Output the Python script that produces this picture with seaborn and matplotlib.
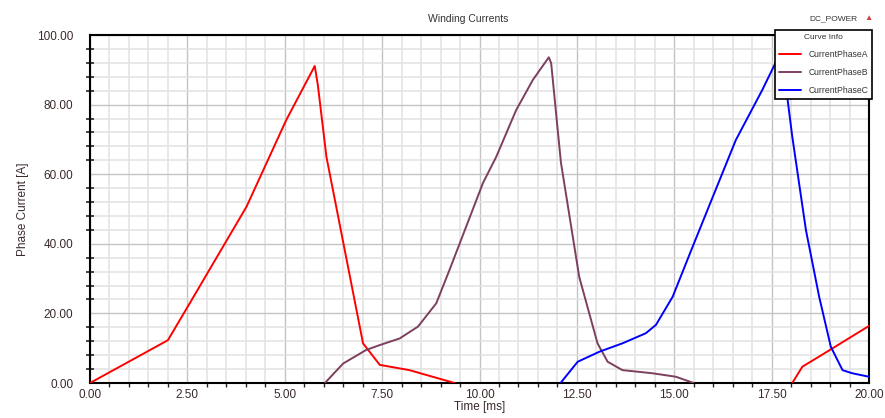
import numpy as np
import pandas as pd
import matplotlib
matplotlib.use("Agg")
import matplotlib.pyplot as plt
from matplotlib.ticker import MultipleLocator, FormatStrFormatter
from matplotlib.lines import Line2D
import seaborn as sns

# ---- data (time in ms, current in A) ----
a1_t = [0.0, 2.0, 2.56, 4.02, 5.04, 5.77, 5.85, 6.07, 7.01, 7.44, 8.2, 9.36]
a1_i = [0.0, 12.3, 22.9, 50.7, 75.6, 91.1, 85.6, 65.0, 11.4, 5.2, 3.7, 0.0]
a2_t = [18.03, 18.29, 18.72, 20.0]
a2_i = [0.0, 4.7, 7.6, 16.4]

b_t = [6.03, 6.5, 7.09, 7.44, 7.95, 8.42, 8.89, 9.23, 9.66, 10.09, 10.43, 10.94,
       11.37, 11.78, 11.84, 12.09, 12.56, 13.03, 13.29, 13.67, 14.44, 15.04, 15.5]
b_i = [0.0, 5.6, 9.5, 10.9, 12.8, 16.2, 22.9, 32.5, 45.0, 57.5, 65.0, 78.4,
       87.1, 93.6, 91.9, 63.4, 30.5, 11.4, 6.1, 3.7, 2.8, 1.8, 0.0]

c_t = [12.08, 12.52, 13.08, 13.67, 14.27, 14.53, 14.96, 15.47, 15.99, 16.58,
       17.26, 17.6, 17.9, 18.03, 18.38, 18.72, 19.02, 19.32, 19.57, 20.0]
c_i = [0.0, 6.1, 9.0, 11.4, 14.3, 16.7, 24.8, 39.1, 53.5, 69.8,
       84.2, 92.0, 82.3, 70.8, 44.0, 24.8, 10.4, 3.7, 2.8, 1.8]

phase_names = ["CurrentPhaseA", "CurrentPhaseB", "CurrentPhaseC"]
phase_colors = ["#ff0000", "#7d3f5e", "#0000ff"]
x_ticks = [0.0, 2.5, 5.0, 7.5, 10.0, 12.5, 15.0, 17.5, 20.0]
y_ticks = [0, 20, 40, 60, 80, 100]

frames = []
for t, i, ph, seg in [(a1_t, a1_i, phase_names[0], "a1"), (a2_t, a2_i, phase_names[0], "a2"),
                      (b_t, b_i, phase_names[1], "b"), (c_t, c_i, phase_names[2], "c")]:
    frames.append(pd.DataFrame({"time": t, "current": i, "phase": ph, "seg": seg}))
df = pd.concat(frames, ignore_index=True)

sns.set_style("white")
plt.rcParams["font.family"] = ["Liberation Sans", "DejaVu Sans"]

fig = plt.figure(figsize=(8.85, 4.18), dpi=100)
ax = fig.add_axes([90 / 885, 1 - 383 / 418, (869 - 90) / 885, (383 - 35) / 418])

sns.lineplot(data=df, x="time", y="current", hue="phase", units="seg", estimator=None,
             palette=dict(zip(phase_names, phase_colors)), linewidth=1.4, ax=ax,
             legend=False, sort=False, zorder=3)

ax.set_xlim(0, 20)
ax.set_ylim(0, 100)
ax.set_xticks(x_ticks)
ax.set_yticks(y_ticks)
ax.xaxis.set_major_formatter(FormatStrFormatter("%.2f"))
ax.yaxis.set_major_formatter(FormatStrFormatter("%.2f"))
ax.xaxis.set_minor_locator(MultipleLocator(0.5))
ax.yaxis.set_minor_locator(MultipleLocator(4))

ax.grid(which="major", color="#c4c4c4", linewidth=1.0, zorder=1)
ax.grid(which="minor", color="#e2e2e2", linewidth=1.1, zorder=0)
ax.set_axisbelow(True)

for s in ax.spines.values():
    s.set_color("black")
    s.set_linewidth(1.5)

ax.tick_params(axis="y", which="major", length=9, width=1.2, direction="out",
               labelsize=8.5, colors="black", labelcolor="#3a2a2a", pad=3)
ax.tick_params(axis="y", which="minor", length=6, width=1.2, direction="inout", left=True)
ax.tick_params(axis="x", which="major", length=4, width=1.2, direction="inout",
               labelsize=8.5, labelcolor="#3a2a2a", pad=2)
ax.tick_params(axis="x", which="minor", length=3, width=1.0, direction="out", bottom=True)

ax.set_xlabel("Time [ms]", fontsize=8.5, color="#3a2a2a", labelpad=0)
ax.set_ylabel("Phase Current [A]", fontsize=8.5, color="#3a2a2a", labelpad=6)

fig.text(468 / 885, 1 - 19 / 418, "Winding Currents", fontsize=7.5, color="#333333",
         ha="center", va="center")
fig.text(857 / 885, 1 - 19 / 418, "DC_POWER", fontsize=6, color="#333333",
         ha="right", va="center")
fig.text(868 / 885, 1 - 19 / 418, "\u25b2", fontsize=6, color="#d04040",
         ha="center", va="center")

handles = [Line2D([0], [0], color=c, linewidth=1.4) for c in phase_colors]
leg = ax.legend(handles, phase_names, title="Curve Info", loc="upper left",
                bbox_to_anchor=(775 / 885, 1 - 30 / 418), bbox_transform=fig.transFigure,
                fontsize=6.2, title_fontsize=6, frameon=True, fancybox=False,
                borderpad=0.45, labelspacing=1.05, handlelength=2.6, handletextpad=0.8,
                borderaxespad=0)
leg.get_frame().set_edgecolor("black")
leg.get_frame().set_linewidth(1.2)
leg.get_frame().set_alpha(1)
leg.set_zorder(10)
leg.get_title().set_color("#333333")
for txt in leg.get_texts():
    txt.set_color("#333333")

fig.savefig("out.png", dpi=100)
